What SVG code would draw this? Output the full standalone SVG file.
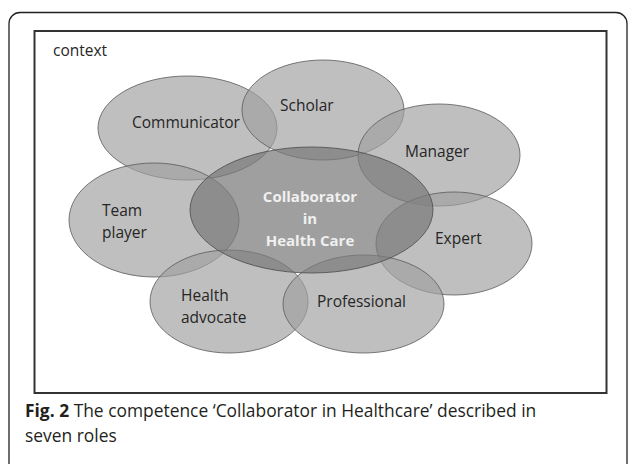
<svg xmlns="http://www.w3.org/2000/svg" width="629" height="464" viewBox="0 0 629 464">
<style>
.role{fill:#a0a0a0;fill-opacity:0.68;stroke:#5a5a5a;stroke-opacity:0.8;stroke-width:1}
.core{fill:#7a7a7a;fill-opacity:0.72;stroke:#505050;stroke-opacity:0.85;stroke-width:1}
.lbl{font-family:"Open Sans","Liberation Sans",sans-serif;font-size:15.5px;fill:#262626}
.clbl{font-family:"Open Sans","Liberation Sans",sans-serif;font-size:15px;font-weight:bold;fill:#f0f0f0;text-anchor:middle}
.cap{font-family:"Open Sans","Liberation Sans",sans-serif;font-size:17.4px;fill:#231f20}
</style>
<rect width="629" height="464" fill="#ffffff"/>
<rect x="9" y="12.5" width="618" height="470" rx="11" fill="none" stroke="#231f20" stroke-width="1.3"/>
<rect x="34.5" y="31" width="572" height="362" fill="#ffffff" stroke="#333333" stroke-width="2"/>
<text x="53" y="56" class="lbl">context</text>
<g id="communicator"><ellipse cx="187.5" cy="128" rx="89.5" ry="52" class="role"/><text x="132" y="128" class="lbl">Communicator</text></g>
<g id="scholar"><ellipse cx="323" cy="110" rx="81" ry="50" class="role"/><text x="280" y="111" class="lbl">Scholar</text></g>
<g id="manager"><ellipse cx="439" cy="155" rx="81" ry="51" class="role"/><text x="405" y="157" class="lbl">Manager</text></g>
<g id="team-player"><ellipse cx="154" cy="220" rx="85" ry="57" class="role"/><text class="lbl"><tspan x="102" y="216">Team</tspan><tspan x="102" y="238">player</tspan></text></g>
<g id="expert"><ellipse cx="454" cy="243.5" rx="78" ry="51.5" class="role"/><text x="435" y="244" class="lbl">Expert</text></g>
<g id="health-advocate"><ellipse cx="229" cy="301.5" rx="79" ry="51.5" class="role"/><text class="lbl"><tspan x="181" y="301">Health</tspan><tspan x="181" y="323">advocate</tspan></text></g>
<g id="professional"><ellipse cx="363.5" cy="304" rx="80.5" ry="49" class="role"/><text x="317" y="307" class="lbl">Professional</text></g>
<g id="collaborator"><ellipse cx="311.5" cy="210" rx="121.5" ry="63" class="core"/><text class="clbl"><tspan x="310" y="202">Collaborator</tspan><tspan x="310" y="224">in</tspan><tspan x="310" y="246">Health Care</tspan></text></g>
<g id="connectors"></g>
<text class="cap" x="25" y="417"><tspan font-weight="bold">Fig. 2</tspan> The competence ‘Collaborator in Healthcare’ described in</text>
<text class="cap" x="25" y="442">seven roles</text>
</svg>
